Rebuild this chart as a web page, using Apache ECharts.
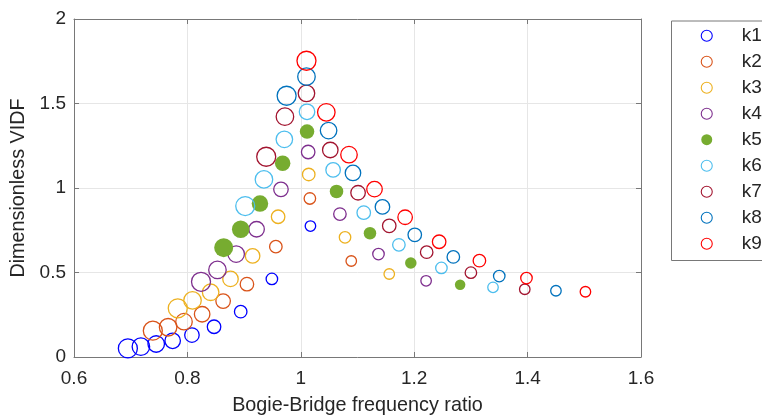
<!DOCTYPE html>
<html>
<head>
<meta charset="utf-8">
<script src="https://cdn.jsdelivr.net/npm/echarts@6/dist/echarts.min.js"></script>
<style>
  html, body { margin: 0; padding: 0; background: #ffffff; }
  #chart { width: 762px; height: 415px; }
</style>
</head>
<body>
<div id="chart"></div>
<script>
// Stiffness cases k1..k9: frequency ratio (x) against dimensionless VIDF (y)
const seriesNames = ['k1', 'k2', 'k3', 'k4', 'k5', 'k6', 'k7', 'k8', 'k9'];

const ratioK1 = [0.695, 0.718, 0.745, 0.774, 0.808, 0.847, 0.894, 0.949, 1.017];
const vidfK1  = [0.051, 0.061, 0.077, 0.096, 0.130, 0.179, 0.268, 0.462, 0.775];

const ratioK2 = [0.739, 0.766, 0.794, 0.826, 0.863, 0.905, 0.956, 1.016, 1.089];
const vidfK2  = [0.156, 0.176, 0.209, 0.253, 0.331, 0.431, 0.653, 0.938, 0.568];

const ratioK3 = [0.783, 0.809, 0.841, 0.876, 0.915, 0.960, 1.014, 1.078, 1.156];
const vidfK3  = [0.288, 0.335, 0.383, 0.462, 0.598, 0.830, 1.080, 0.708, 0.491];

const ratioK4 = [0.824, 0.853, 0.886, 0.922, 0.965, 1.013, 1.069, 1.137, 1.221];
const vidfK4  = [0.445, 0.515, 0.609, 0.756, 0.992, 1.213, 0.846, 0.609, 0.451];

const ratioK5 = [0.864, 0.894, 0.928, 0.968, 1.011, 1.063, 1.122, 1.194, 1.281];
const vidfK5  = [0.647, 0.756, 0.908, 1.146, 1.334, 0.980, 0.732, 0.556, 0.428];

const ratioK6 = [0.902, 0.935, 0.971, 1.011, 1.057, 1.111, 1.173, 1.248, 1.339];
const vidfK6  = [0.893, 1.051, 1.288, 1.451, 1.107, 0.854, 0.664, 0.527, 0.412];

const ratioK7 = [0.939, 0.972, 1.010, 1.052, 1.101, 1.156, 1.222, 1.300, 1.395];
const vidfK7  = [1.185, 1.422, 1.560, 1.225, 0.972, 0.776, 0.620, 0.499, 0.401];

const ratioK8 = [0.975, 1.010, 1.049, 1.092, 1.144, 1.201, 1.269, 1.350, 1.450];
const vidfK8  = [1.546, 1.659, 1.340, 1.089, 0.888, 0.723, 0.592, 0.479, 0.392];

const ratioK9 = [1.010, 1.045, 1.085, 1.130, 1.184, 1.244, 1.315, 1.398, 1.502];
const vidfK9  = [1.753, 1.448, 1.197, 0.993, 0.827, 0.682, 0.570, 0.467, 0.386];

const xTickValues = [0.6, 0.8, 1.0, 1.2, 1.4, 1.6];
const yTickValues = [0, 0.5, 1, 1.5, 2];

const ratios = [ratioK1, ratioK2, ratioK3, ratioK4, ratioK5, ratioK6, ratioK7, ratioK8, ratioK9];
const vidfs  = [vidfK1, vidfK2, vidfK3, vidfK4, vidfK5, vidfK6, vidfK7, vidfK8, vidfK9];

// ---- styling ----
const colors = ['#0000ff', '#d95319', '#edb120', '#7e2f8e', '#77ac30',
                '#4dbeee', '#a2142f', '#0072bd', '#ff0000'];
const filledSeries = 'k5';
// marker diameter shrinks along each run of points
const markerDiameters = [19, 17.5, 16.5, 15.5, 14.5, 13.5, 12.5, 11.5, 10.5];

const fontFamily = "'Liberation Sans', Arial, Helvetica, sans-serif";
const axisColor = '#787878';
const textColor = '#262626';
const gridColor = '#e6e6e6';

const xMin = xTickValues[0], xMax = xTickValues[xTickValues.length - 1];
const xStep = xTickValues[1] - xTickValues[0];
const yMin = yTickValues[0], yMax = yTickValues[yTickValues.length - 1];
const yStep = yTickValues[1] - yTickValues[0];

function frameAxis(extra) {
  return Object.assign({
    type: 'value',
    axisLine: { show: true, onZero: false, lineStyle: { color: axisColor, width: 1 } },
    axisTick: { show: true, inside: true, length: 5, lineStyle: { color: axisColor, width: 1 } },
    axisLabel: { show: false },
    splitLine: { show: false }
  }, extra);
}

const chart = echarts.init(document.getElementById('chart'), null, { renderer: 'canvas' });

const option = {
  animation: false,
  backgroundColor: '#ffffff',
  textStyle: { fontFamily: fontFamily },
  grid: { left: 74, right: 121, top: 19, bottom: 58, containLabel: false, outerBoundsMode: 'none' },
  // legend frame, open past the right edge of the canvas
  graphic: [{
    type: 'rect',
    left: 671, top: 20.5,
    shape: { width: 140, height: 239.5 },
    style: { fill: '#ffffff', stroke: axisColor, lineWidth: 1 },
    z: 0, silent: true
  }],
  xAxis: [
    frameAxis({
      position: 'bottom', min: xMin, max: xMax, interval: xStep,
      name: 'Bogie-Bridge frequency ratio', nameLocation: 'middle', nameGap: 39,
      nameTextStyle: { fontSize: 19.8, color: textColor, fontFamily: fontFamily },
      axisLabel: { show: true, fontSize: 19, color: textColor, margin: 12, fontFamily: fontFamily,
                   formatter: v => String(Math.round(v * 10) / 10) },
      splitLine: { show: true, lineStyle: { color: gridColor, width: 1 } }
    }),
    frameAxis({ position: 'top', min: xMin, max: xMax, interval: xStep })
  ],
  yAxis: [
    frameAxis({
      position: 'left', min: yMin, max: yMax, interval: yStep,
      name: 'Dimensionless VIDF', nameLocation: 'middle', nameGap: 36,
      nameTextStyle: { fontSize: 19.8, color: textColor, fontFamily: fontFamily },
      axisLabel: { show: true, fontSize: 19, color: textColor, margin: 8, fontFamily: fontFamily },
      splitLine: { show: true, lineStyle: { color: gridColor, width: 1 } }
    }),
    frameAxis({ position: 'right', min: yMin, max: yMax, interval: yStep })
  ],
  legend: {
    orient: 'vertical',
    left: 700.7,
    top: 26.2,
    padding: 0,
    itemWidth: 12,
    itemHeight: 11,
    itemGap: 7,
    borderWidth: 0,
    selectedMode: false,
    z: 5,
    itemStyle: { borderWidth: 1.1 },
    textStyle: { fontSize: 19, lineHeight: 19, color: textColor, fontFamily: fontFamily,
                 padding: [0, 0, 0, 24] },
    data: seriesNames.map(n => ({ name: n, icon: 'circle' }))
  },
  series: seriesNames.map((name, i) => ({
    name: name,
    type: 'scatter',
    xAxisIndex: 0,
    yAxisIndex: 0,
    symbol: 'circle',
    symbolSize: (val, params) => markerDiameters[params.dataIndex],
    data: ratios[i].map((x, j) => [x, vidfs[i][j]]),
    itemStyle: name === filledSeries
      ? { color: colors[i], borderWidth: 0, opacity: 1 }
      : { color: 'rgba(255,255,255,0)', borderColor: colors[i], borderWidth: 1.3, opacity: 1 },
    emphasis: { disabled: true },
    z: 2 + i
  }))
};

chart.setOption(option);
</script>
</body>
</html>
